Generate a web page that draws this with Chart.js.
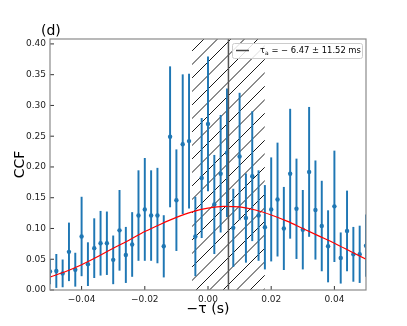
<!DOCTYPE html>
<html lang="en">
<head>
    <meta charset="UTF-8">
    <title>CCF (d)</title>
    <script src="https://cdn.jsdelivr.net/npm/chart.js"></script>
    <style>
        html, body { margin: 0; padding: 0; background: #fff; }
        canvas { display: block; }
    </style>
</head>
<body>
    <canvas id="ccfChart" width="407" height="326"></canvas>

    <script>
        // lag values (-tau, s)
        const lags = [-0.050, -0.048, -0.046, -0.044, -0.042, -0.040, -0.038, -0.036, -0.034, -0.032,
                      -0.030, -0.028, -0.026, -0.024, -0.022, -0.020, -0.018, -0.016, -0.014, -0.012,
                      -0.010, -0.008, -0.006, -0.004, -0.002, 0.000, 0.002, 0.004, 0.006, 0.008,
                      0.010, 0.012, 0.014, 0.016, 0.018, 0.020, 0.022, 0.024, 0.026, 0.028,
                      0.030, 0.032, 0.034, 0.036, 0.038, 0.040, 0.042, 0.044, 0.046, 0.048, 0.050];
        const ccf = [0.030, 0.031, 0.027, 0.062, 0.033, 0.087, 0.042, 0.068, 0.076, 0.076,
                     0.049, 0.097, 0.057, 0.074, 0.121, 0.131, 0.121, 0.121, 0.071, 0.249,
                     0.146, 0.237, 0.242, 0.087, 0.182, 0.270, 0.139, 0.189, 0.223, 0.101,
                     0.217, 0.117, 0.185, 0.121, 0.102, 0.131, 0.147, 0.100, 0.189, 0.132,
                     0.098, 0.192, 0.130, 0.104, 0.071, 0.136, 0.052, 0.096, 0.058, 0.058, 0.072];
        const ccfErr = [0.020, 0.027, 0.022, 0.047, 0.027, 0.064, 0.035, 0.048, 0.052, 0.051,
                        0.039, 0.065, 0.045, 0.052, 0.073, 0.083, 0.073, 0.077, 0.050, 0.114,
                        0.082, 0.113, 0.109, 0.064, 0.097, 0.109, 0.080, 0.095, 0.104, 0.063,
                        0.103, 0.072, 0.105, 0.073, 0.068, 0.084, 0.092, 0.067, 0.105, 0.081,
                        0.064, 0.105, 0.080, 0.073, 0.058, 0.090, 0.041, 0.065, 0.044, 0.046, 0.050];

        // fitted curve (red)
        const fitLags = [-0.050, -0.045, -0.040, -0.035, -0.030, -0.025, -0.020, -0.015, -0.010, -0.005, 0.000,
                         0.005, 0.010, 0.015, 0.020, 0.025, 0.030, 0.035, 0.040, 0.045, 0.050];
        const fitCcf = [0.021, 0.030, 0.041, 0.054, 0.068, 0.081, 0.095, 0.107, 0.118, 0.127, 0.133,
                        0.136, 0.135, 0.130, 0.122, 0.112, 0.100, 0.088, 0.076, 0.063, 0.050];

        // lag estimate (s)
        const tauA = 0.00647;
        const tauErr = 0.01152;

        const xTicks = [-0.04, -0.02, 0.00, 0.02, 0.04];
        const yTicks = [0.00, 0.05, 0.10, 0.15, 0.20, 0.25, 0.30, 0.35, 0.40];
        const yMax = 0.408;

        const FONT = 'DejaVu Sans';
        const C0 = '#1f77b4';

        function hatchPattern() {
            const c = document.createElement('canvas');
            c.width = 27; c.height = 27;
            const g = c.getContext('2d');
            g.strokeStyle = '#000';
            g.lineWidth = 0.9;
            for (let k = 0; k <= 54; k += 13.5) {
                g.beginPath();
                g.moveTo(-5, k + 5);
                g.lineTo(k + 5, -5);
                g.stroke();
            }
            return g.createPattern(c, 'repeat');
        }

        const decor = {
            id: 'decor',
            afterDatasetsDraw(chart) {
                const { ctx, chartArea: a, scales: { x, y } } = chart;
                ctx.save();
                // inward ticks
                ctx.strokeStyle = '#333';
                ctx.lineWidth = 1;
                xTicks.forEach(v => {
                    const px = x.getPixelForValue(v);
                    ctx.beginPath(); ctx.moveTo(px, a.bottom); ctx.lineTo(px, a.bottom - 4); ctx.stroke();
                });
                yTicks.forEach(v => {
                    const py = y.getPixelForValue(v);
                    ctx.beginPath(); ctx.moveTo(a.left, py); ctx.lineTo(a.left + 4, py); ctx.stroke();
                });
                // frame
                ctx.strokeStyle = '#8a8a8a';
                ctx.lineWidth = 1.2;
                ctx.strokeRect(a.left, a.top, a.right - a.left, a.bottom - a.top);

                // panel label
                ctx.fillStyle = '#000';
                ctx.font = '14px "' + FONT + '"';
                ctx.textBaseline = 'middle';
                ctx.textAlign = 'left';
                ctx.fillText('(d)', 41, 31);

                // legend
                const bx = 232, by = 43, bw = 130, bh = 15;
                ctx.fillStyle = 'rgba(255,255,255,0.85)';
                ctx.strokeStyle = '#cccccc';
                ctx.lineWidth = 1;
                ctx.beginPath();
                ctx.roundRect(bx + 0.5, by + 0.5, bw, bh, 2);
                ctx.fill();
                ctx.stroke();
                ctx.strokeStyle = '#444';
                ctx.lineWidth = 1.5;
                ctx.beginPath(); ctx.moveTo(236, 50.5); ctx.lineTo(249, 50.5); ctx.stroke();
                ctx.fillStyle = '#000';
                ctx.font = '8.4px "' + FONT + '"';
                ctx.fillText('\u03c4', 260, 50.5);
                const tw = ctx.measureText('\u03c4').width;
                ctx.font = '6px "' + FONT + '"';
                ctx.fillText('a', 260 + tw, 53);
                const aw = ctx.measureText('a').width;
                ctx.font = '8.4px "' + FONT + '"';
                ctx.fillText(' = \u2212 6.47 \u00b1 11.52 ms', 260 + tw + aw, 50.5);
                ctx.restore();
            }
        };

        const ctx = document.getElementById('ccfChart').getContext('2d');

        new Chart(ctx, {
            type: 'scatter',
            data: {
                datasets: [
                    {
                        type: 'line',
                        label: 'tau_a = -6.47 +/- 11.52 ms',
                        data: [{ x: tauA, y: 0 }, { x: tauA, y: yMax }],
                        borderColor: '#555',
                        borderWidth: 1.5,
                        pointRadius: 0,
                        order: 1
                    },
                    {
                        type: 'line',
                        label: 'fit',
                        data: fitLags.map((v, i) => ({ x: v, y: fitCcf[i] })),
                        borderColor: '#ff0000',
                        borderWidth: 1.2,
                        pointRadius: 0,
                        cubicInterpolationMode: 'monotone',
                        order: 2
                    },
                    {
                        type: 'scatter',
                        label: 'CCF',
                        data: lags.map((v, i) => ({ x: v, y: ccf[i] })),
                        backgroundColor: C0,
                        borderWidth: 0,
                        pointRadius: 2.2,
                        order: 3
                    },
                    {
                        type: 'bar',
                        label: 'errors',
                        data: lags.map((v, i) => ({ x: v, y: [ccf[i] - ccfErr[i], ccf[i] + ccfErr[i]] })),
                        backgroundColor: C0,
                        borderWidth: 0,
                        barThickness: 1.3,
                        grouped: false,
                        order: 4
                    },
                    {
                        type: 'line',
                        label: 'hatch',
                        data: [{ x: tauA - tauErr, y: yMax }, { x: tauA + tauErr, y: yMax }],
                        borderWidth: 0,
                        borderColor: 'rgba(0,0,0,0)',
                        pointRadius: 0,
                        fill: 'origin',
                        backgroundColor: hatchPattern(),
                        order: 5
                    }
                ]
            },
            options: {
                responsive: false,
                animation: false,
                devicePixelRatio: 1,
                layout: { padding: { top: 39, right: 41, left: 0, bottom: 0 } },
                plugins: {
                    legend: { display: false },
                    tooltip: { enabled: false }
                },
                scales: {
                    x: {
                        type: 'linear',
                        min: -0.05,
                        max: 0.05,
                        offset: false,
                        afterBuildTicks: s => { s.ticks = xTicks.map(v => ({ value: v })); },
                        afterFit: s => { s.height = 36; },
                        grid: { display: false, drawTicks: false },
                        border: { display: false },
                        ticks: {
                            padding: 4,
                            color: '#222',
                            font: { family: FONT, size: 9 },
                            callback: v => (v < 0 ? '\u2212' : '') + Math.abs(v).toFixed(2)
                        },
                        title: {
                            display: true,
                            text: '\u2212\u03c4 (s)',
                            color: '#000',
                            font: { family: FONT, size: 14 },
                            padding: { top: 0, bottom: 8 }
                        }
                    },
                    y: {
                        type: 'linear',
                        min: 0,
                        max: yMax,
                        afterBuildTicks: s => { s.ticks = yTicks.map(v => ({ value: v })); },
                        afterFit: s => { s.width = 50; },
                        grid: { display: false, drawTicks: false },
                        border: { display: false },
                        ticks: {
                            padding: 4,
                            color: '#222',
                            font: { family: FONT, size: 9 },
                            callback: v => v.toFixed(2)
                        },
                        title: {
                            display: true,
                            text: 'CCF',
                            color: '#000',
                            font: { family: FONT, size: 14 },
                            padding: { top: 12, bottom: 0 }
                        }
                    }
                }
            },
            plugins: [decor]
        });
    </script>
</body>
</html>
